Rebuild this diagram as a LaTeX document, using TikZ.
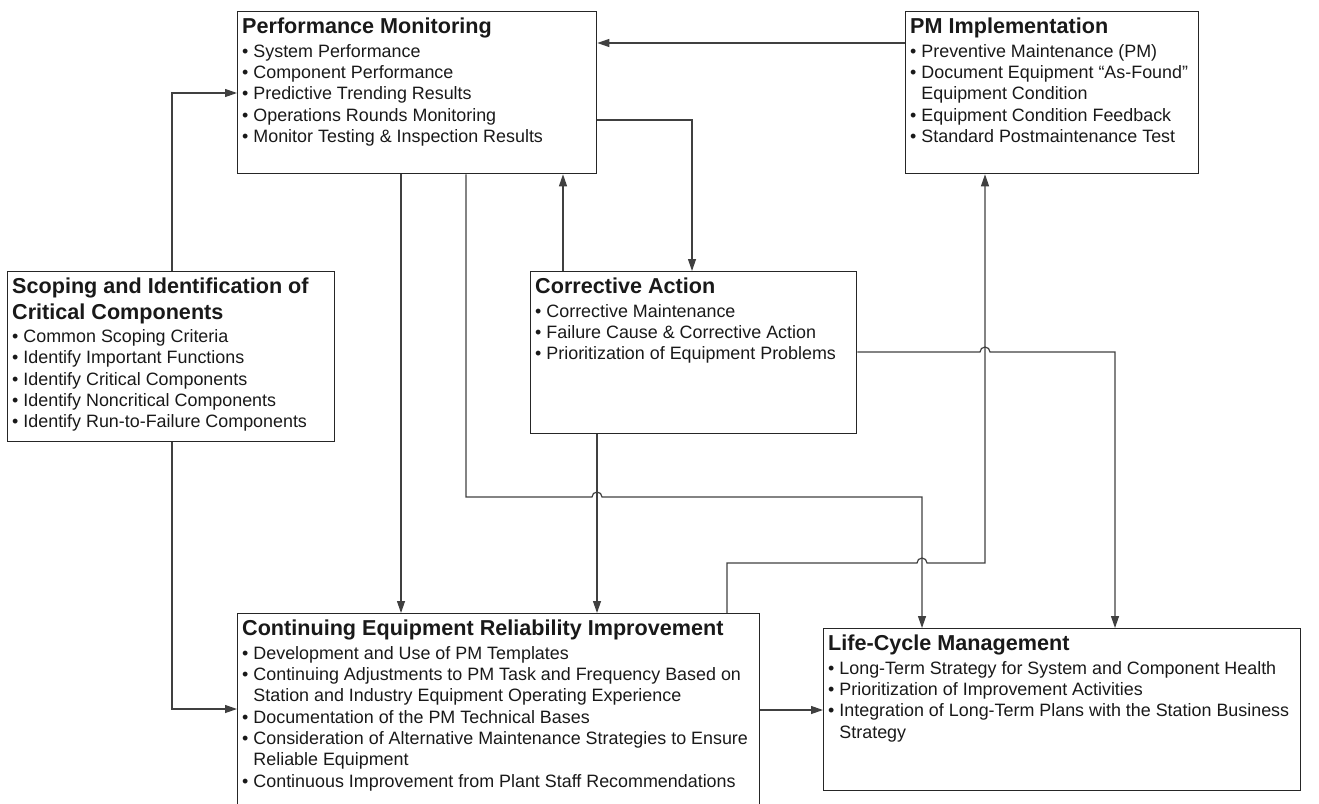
\documentclass[tikz,border=0pt]{standalone}
\usepackage{fontspec}
\setmainfont{Liberation Sans}
\usetikzlibrary{arrows.meta,calc}
\newcommand\bodyfont{\fontsize{17.9bp}{21.3bp}\selectfont}
\newcommand\ttl[1]{{\fontsize{21.6bp}{26.5bp}\selectfont\bfseries\rule{0pt}{16bp}#1}}
\newcommand\ttlb[1]{{\fontsize{21.6bp}{26.5bp}\selectfont\bfseries #1}}
\newcommand\itm{\textbullet\ }
\newcommand\ind{\hphantom{\textbullet\ }}
\begin{document}
\begin{tikzpicture}[x=1bp,y=-1bp,
 box/.style={draw=black!85, line width=1.3bp, rectangle, inner sep=0pt, anchor=north west},
 txt/.style={inner sep=0pt, anchor=north west, align=left, font=\bodyfont, text=black!90},
 conn/.style={draw=black!75, line width=1.2bp, -{Triangle[length=12bp,width=8bp]}}]
\useasboundingbox (0,0) rectangle (1319,803);
\clip (0,0) rectangle (1319,803);

\node[box, minimum width=359bp, minimum height=162bp] (pm) at (237,11) {};
\node[box, minimum width=293bp, minimum height=162bp] (pmi) at (905,11) {};
\node[box, minimum width=327bp, minimum height=170bp] (sc) at (7,271) {};
\node[box, minimum width=326bp, minimum height=162bp] (ca) at (530,271) {};
\node[box, minimum width=522bp, minimum height=200bp] (ceri) at (237,613) {};
\node[box, minimum width=477bp, minimum height=162bp] (lcm) at (823,628) {};

\node[txt] (pmt) at ([shift={(5,6)}]pm.north west) {\ttl{Performance Monitoring}\\[2.7bp]
 \itm System Performance\\ \itm Component Performance\\ \itm Predictive Trending Results\\
 \itm Operations Rounds Monitoring\\ \itm Monitor Testing \& Inspection Results};
\node[txt] (pmit) at ([shift={(5,6)}]pmi.north west) {\ttl{PM Implementation}\\[2.7bp]
 \itm Preventive Maintenance (PM)\\ \itm Document Equipment “As-Found”\\ \ind Equipment Condition\\
 \itm Equipment Condition Feedback\\ \itm Standard Postmaintenance Test};
\node[txt] (sct) at ([shift={(5,6)}]sc.north west) {\ttl{Scoping and Identification of}\\[5.2bp]
 \ttlb{Critical Components}\\[1.5bp]
 \itm Common Scoping Criteria\\ \itm Identify Important Functions\\ \itm Identify Critical Components\\
 \itm Identify Noncritical Components\\ \itm Identify Run-to-Failure Components};
\node[txt] (cat) at ([shift={(5,6)}]ca.north west) {\ttl{Corrective Action}\\[2.7bp]
 \itm Corrective Maintenance\\ \itm Failure Cause \& Corrective Action\\ \itm Prioritization of Equipment Problems};
\node[txt] (cerit) at ([shift={(5,6)}]ceri.north west) {\ttl{Continuing Equipment Reliability Improvement}\\[2.7bp]
 \itm Development and Use of PM Templates\\
 \itm Continuing Adjustments to PM Task and Frequency Based on\\
 \ind Station and Industry Equipment Operating Experience\\
 \itm Documentation of the PM Technical Bases\\
 \itm Consideration of Alternative Maintenance Strategies to Ensure\\
 \ind Reliable Equipment\\
 \itm Continuous Improvement from Plant Staff Recommendations};
\node[txt] (lcmt) at ([shift={(5,6)}]lcm.north west) {\ttl{Life-Cycle Management}\\[2.7bp]
 \itm Long-Term Strategy for System and Component Health\\
 \itm Prioritization of Improvement Activities\\
 \itm Integration of Long-Term Plans with the Station Business\\
 \ind Strategy};

% connectors
\draw[conn] (pmi.west |- 0,43) -- (pm.east |- 0,43);
\draw[conn] (sc.north -| 172,0) |- (pm.west |- 0,93);
\draw[conn] (sc.south -| 172,0) |- (ceri.west |- 0,709);
\draw[conn] (pm.south -| 401,0) -- (ceri.north -| 401,0);
\draw[conn] (pm.south -| 466,0) -- (466,497) -- (592,497) arc[start angle=180,end angle=360,radius=5] -- (922,497) -- (lcm.north -| 922,0);
\draw[conn] (pm.east |- 0,120) -| (ca.north -| 692,0);
\draw[conn] (ca.north -| 563,0) -- (pm.south -| 563,0);
\draw[conn] (ca.south -| 597,0) -- (ceri.north -| 597,0);
\draw[conn] (ca.east |- 0,352) -- (980,352) arc[start angle=180,end angle=360,radius=5] -- (1115,352) -- (lcm.north -| 1115,0);
\draw[conn] (ceri.north -| 727,0) -- (727,563) -- (917,563) arc[start angle=180,end angle=360,radius=5] -- (985,563) -- (pmi.south -| 985,0);
\draw[conn] (ceri.east |- 0,710) -- (lcm.west |- 0,710);
\end{tikzpicture}
\end{document}
